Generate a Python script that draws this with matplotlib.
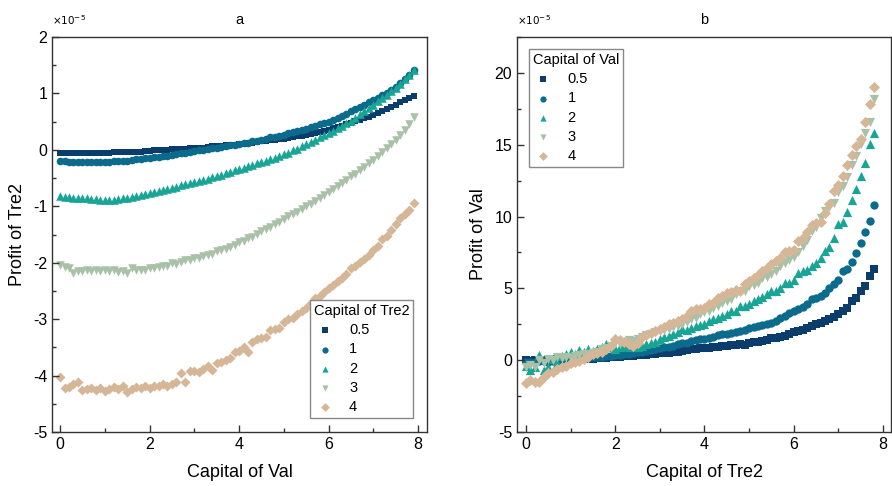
import numpy as np
import matplotlib
matplotlib.use("Agg")
from matplotlib import pyplot as plt
from matplotlib.ticker import MultipleLocator

plt.rcParams['font.family'] = ['Liberation Sans', 'DejaVu Sans']
plt.rcParams['axes.unicode_minus'] = False

# series labels / styles
levels = ['0.5', '1', '2', '3', '4']
colors = ['#0b3d6c', '#0b6b8d', '#18a596', '#a9c2a7', '#d5b797']
markers = ['s', 'o', '^', 'v', 'D']

# panel a: profit of Tre2 vs capital of Val (x 0.0 .. 7.9, values in 1e-5)
cap_val = np.round(np.arange(0, 7.95, 0.1), 1)

tre2_05 = [-0.06, -0.06, -0.06, -0.06, -0.06, -0.06, -0.05, -0.05, -0.05, -0.05,
           -0.05, -0.05, -0.04, -0.04, -0.04, -0.04, -0.03, -0.03, -0.03, -0.02,
           -0.02, -0.01, -0.01, 0.00, 0.00, 0.01, 0.01, 0.02, 0.02, 0.03,
           0.03, 0.04, 0.04, 0.05, 0.06, 0.06, 0.07, 0.08, 0.09, 0.09,
           0.10, 0.11, 0.12, 0.13, 0.14, 0.15, 0.16, 0.17, 0.18, 0.19,
           0.20, 0.21, 0.22, 0.24, 0.25, 0.27, 0.28, 0.30, 0.32, 0.34,
           0.36, 0.38, 0.40, 0.42, 0.45, 0.48, 0.51, 0.53, 0.56, 0.59,
           0.62, 0.65, 0.69, 0.72, 0.76, 0.80, 0.84, 0.88, 0.92, 0.96]
tre2_1 = [-0.20, -0.20, -0.21, -0.21, -0.21, -0.21, -0.22, -0.22, -0.21, -0.21,
          -0.21, -0.21, -0.20, -0.20, -0.19, -0.19, -0.18, -0.17, -0.16, -0.15,
          -0.14, -0.13, -0.12, -0.11, -0.10, -0.09, -0.07, -0.06, -0.05, -0.04,
          -0.02, -0.01, 0.00, 0.01, 0.03, 0.04, 0.05, 0.07, 0.08, 0.09,
          0.10, 0.12, 0.13, 0.15, 0.16, 0.18, 0.20, 0.22, 0.23, 0.25,
          0.27, 0.29, 0.31, 0.33, 0.35, 0.37, 0.40, 0.42, 0.45, 0.47,
          0.50, 0.53, 0.57, 0.60, 0.64, 0.68, 0.72, 0.76, 0.80, 0.84,
          0.88, 0.92, 0.97, 1.01, 1.06, 1.12, 1.18, 1.25, 1.33, 1.42]
tre2_2 = [-0.82, -0.83, -0.84, -0.85, -0.85, -0.86, -0.86, -0.87, -0.87, -0.88,
          -0.88, -0.88, -0.88, -0.87, -0.86, -0.85, -0.84, -0.82, -0.80, -0.78,
          -0.76, -0.74, -0.73, -0.71, -0.69, -0.67, -0.65, -0.63, -0.61, -0.59,
          -0.57, -0.55, -0.53, -0.51, -0.48, -0.46, -0.44, -0.41, -0.39, -0.36,
          -0.34, -0.32, -0.29, -0.27, -0.24, -0.22, -0.19, -0.16, -0.14, -0.11,
          -0.08, -0.05, -0.01, 0.02, 0.06, 0.10, 0.14, 0.18, 0.22, 0.26,
          0.30, 0.34, 0.38, 0.43, 0.47, 0.52, 0.57, 0.63, 0.68, 0.74,
          0.80, 0.86, 0.92, 0.98, 1.04, 1.10, 1.17, 1.25, 1.33, 1.42]
tre2_3 = [-2.04, -2.07, -2.10, -2.19, -2.14, -2.15, -2.13, -2.15, -2.12, -2.14,
          -2.13, -2.15, -2.12, -2.16, -2.14, -2.18, -2.10, -2.13, -2.12, -2.13,
          -2.10, -2.09, -2.07, -2.06, -2.05, -2.01, -2.03, -1.99, -1.96, -1.95,
          -1.92, -1.91, -1.88, -1.86, -1.84, -1.80, -1.78, -1.75, -1.72, -1.68,
          -1.64, -1.61, -1.57, -1.54, -1.49, -1.44, -1.40, -1.36, -1.31, -1.27,
          -1.22, -1.18, -1.14, -1.10, -1.05, -1.00, -0.96, -0.91, -0.86, -0.80,
          -0.75, -0.70, -0.64, -0.59, -0.53, -0.47, -0.42, -0.36, -0.30, -0.24,
          -0.18, -0.11, -0.04, 0.03, 0.10, 0.18, 0.26, 0.35, 0.46, 0.58]
tre2_4 = [-4.02, -4.22, -4.20, -4.14, -4.12, -4.26, -4.24, -4.22, -4.26, -4.22,
          -4.27, -4.24, -4.20, -4.23, -4.19, -4.29, -4.24, -4.20, -4.22, -4.18,
          -4.22, -4.18, -4.19, -4.15, -4.18, -4.15, -4.12, -3.95, -4.11, -3.92,
          -3.92, -3.94, -3.88, -3.83, -3.90, -3.78, -3.75, -3.73, -3.68, -3.58,
          -3.56, -3.50, -3.58, -3.40, -3.36, -3.33, -3.31, -3.20, -3.17, -3.15,
          -3.05, -3.00, -2.98, -2.90, -2.85, -2.80, -2.72, -2.62, -2.59, -2.52,
          -2.45, -2.40, -2.33, -2.27, -2.20, -2.10, -2.05, -1.99, -1.93, -1.87,
          -1.78, -1.70, -1.58, -1.52, -1.42, -1.32, -1.20, -1.13, -1.06, -0.94]

# panel b: profit of Val vs capital of Tre2 (x 0.0 .. 7.8, values in 1e-5)
cap_tre2 = np.round(np.arange(0, 7.85, 0.1), 1)

val_05 = [0.02, -0.05, 0.05, 0.00, 0.03, -0.02, 0.04, 0.06, 0.02, 0.05,
          0.08, 0.06, 0.10, 0.08, 0.12, 0.10, 0.14, 0.15, 0.17, 0.20,
          0.25, 0.24, 0.28, 0.30, 0.30, 0.34, 0.36, 0.38, 0.42, 0.44,
          0.50, 0.48, 0.53, 0.58, 0.60, 0.63, 0.72, 0.76, 0.78, 0.82,
          0.85, 0.88, 0.92, 0.95, 1.00, 1.00, 1.04, 1.08, 1.12, 1.06,
          1.20, 1.24, 1.30, 1.32, 1.40, 1.55, 1.52, 1.62, 1.72, 1.80,
          1.95, 2.05, 2.12, 2.27, 2.38, 2.50, 2.62, 2.73, 2.85, 3.00,
          3.20, 3.42, 3.66, 4.10, 4.35, 4.80, 5.16, 5.85, 6.35]
val_1 = [-0.15, -0.10, -0.12, -0.05, -0.08, -0.10, -0.05, -0.02, 0.00, 0.02,
         0.05, 0.08, 0.10, 0.12, 0.15, 0.20, 0.22, 0.25, 0.28, 0.30,
         0.35, 0.38, 0.40, 0.45, 0.50, 0.55, 0.58, 0.62, 0.70, 0.78,
         0.88, 0.90, 0.95, 1.02, 1.10, 1.18, 1.22, 1.32, 1.40, 1.46,
         1.50, 1.58, 1.62, 1.75, 1.80, 1.85, 1.92, 1.98, 2.03, 2.10,
         2.27, 2.30, 2.38, 2.42, 2.55, 2.60, 2.75, 2.96, 3.05, 3.30,
         3.40, 3.54, 3.70, 3.90, 4.24, 4.30, 4.50, 4.70, 5.05, 5.28,
         5.60, 6.20, 6.32, 6.85, 7.48, 8.17, 8.90, 9.67, 10.80]
val_2 = [-0.40, -0.70, -0.50, 0.35, -0.65, -0.45, 0.10, -0.20, 0.30, 0.45,
         0.55, 0.40, 0.70, 0.60, 0.75, 0.65, 0.80, 0.90, 1.10, 0.95,
         0.77, 0.95, 1.00, 0.90, 1.05, 0.92, 1.00, 1.10, 1.20, 1.30,
         1.46, 1.60, 1.70, 1.85, 1.95, 2.15, 2.10, 2.27, 2.40, 2.45,
         2.50, 2.70, 2.85, 2.95, 3.08, 3.20, 3.42, 3.40, 3.80, 3.75,
         3.90, 4.10, 4.24, 4.40, 4.60, 4.80, 4.85, 5.05, 5.40, 5.35,
         5.60, 6.10, 6.20, 6.30, 6.55, 6.80, 7.10, 7.60, 7.90, 8.50,
         9.50, 9.60, 10.30, 11.13, 11.90, 12.85, 13.70, 15.07, 15.85]
val_3 = [-0.50, -0.30, -0.45, 0.00, -0.20, 0.10, 0.05, 0.20, 0.15, 0.25,
         0.18, 0.30, 0.35, 0.40, 0.45, 0.53, 0.60, 0.75, 0.85, 1.00,
         1.23, 1.15, 1.30, 1.40, 1.35, 1.46, 1.60, 1.75, 1.85, 1.95,
         2.03, 2.10, 2.20, 2.30, 2.40, 2.50, 2.65, 2.85, 2.95, 3.20,
         3.35, 3.42, 3.66, 3.80, 4.00, 4.10, 4.24, 4.60, 4.75, 4.80,
         5.16, 5.25, 5.40, 5.74, 5.80, 5.97, 6.20, 6.55, 6.80, 7.00,
         7.20, 7.50, 7.95, 8.40, 9.00, 9.30, 9.90, 10.40, 10.70, 10.95,
         11.70, 12.15, 12.75, 13.60, 14.20, 15.07, 15.85, 16.55, 18.20]
val_4 = [-1.60, -1.40, -1.50, -1.55, -1.20, -0.86, -0.80, -0.60, -0.50, -0.40,
         -0.20, -0.15, -0.04, 0.10, 0.25, 0.40, 0.50, 0.60, 0.77, 1.00,
         1.46, 1.40, 1.30, 1.10, 1.00, 1.20, 1.60, 1.75, 1.92, 2.00,
         2.15, 2.30, 2.50, 2.60, 2.70, 2.90, 3.08, 3.40, 3.55, 3.60,
         3.66, 3.90, 4.00, 4.35, 4.50, 4.70, 4.75, 4.90, 4.80, 5.30,
         5.50, 5.74, 5.90, 6.20, 6.40, 6.67, 6.90, 7.15, 7.50, 7.60,
         7.70, 8.30, 8.50, 8.90, 9.40, 9.55, 9.60, 10.25, 10.90, 11.80,
         12.20, 12.80, 13.60, 14.30, 14.90, 15.40, 16.60, 17.85, 19.00]

tre2_series = [tre2_05, tre2_1, tre2_2, tre2_3, tre2_4]
val_series = [val_05, val_1, val_2, val_3, val_4]
sizes_a = [24, 30, 38, 38, 26]
sizes_b = [30, 36, 44, 44, 32]


def style_axes(ax):
    for sp in ax.spines.values():
        sp.set_color('#333333')
        sp.set_linewidth(1.0)
    ax.tick_params(which='both', direction='in', top=False, right=False,
                   colors='#333333', labelcolor='black', labelsize=11.5)
    ax.tick_params(which='major', length=5, width=1.0)
    ax.tick_params(which='minor', length=3, width=1.0)
    ax.xaxis.set_major_locator(MultipleLocator(2))
    ax.xaxis.set_minor_locator(MultipleLocator(1))


fig = plt.figure(figsize=(8.92, 4.86), dpi=100)
ax1 = fig.add_axes([0.0583, 0.111, 0.4204, 0.8129])
ax2 = fig.add_axes([0.5796, 0.111, 0.4193, 0.8129])

for ys, lab, c, m, s in zip(tre2_series, levels, colors, markers, sizes_a):
    ax1.scatter(cap_val, ys, s=s, c=c, marker=m, linewidths=0, label=lab)
for ys, lab, c, m, s in zip(val_series, levels, colors, markers, sizes_b):
    ax2.scatter(cap_tre2, ys, s=s, c=c, marker=m, linewidths=0, label=lab)

style_axes(ax1)
ax1.set_xlim(-0.18, 8.2)
ax1.set_ylim(-5, 2)
ax1.yaxis.set_major_locator(MultipleLocator(1))
ax1.yaxis.set_minor_locator(MultipleLocator(0.5))
ax1.set_xlabel('Capital of Val', fontsize=13, labelpad=9)
ax1.set_ylabel('Profit of Tre2', fontsize=13, labelpad=5)
ax1.set_title('a', fontsize=10.5, pad=9)
ax1.text(0.0, 1.025, r'$\times10^{-5}$', transform=ax1.transAxes, fontsize=7.5,
         ha='left', va='bottom')

style_axes(ax2)
ax2.set_xlim(-0.2, 8.18)
ax2.set_ylim(-5, 22.5)
ax2.yaxis.set_major_locator(MultipleLocator(5))
ax2.yaxis.set_minor_locator(MultipleLocator(2.5))
ax2.set_xlabel('Capital of Tre2', fontsize=13, labelpad=9)
ax2.set_ylabel('Profit of Val', fontsize=13, labelpad=5)
ax2.set_title('b', fontsize=10.5, pad=9)
ax2.text(0.0, 1.025, r'$\times10^{-5}$', transform=ax2.transAxes, fontsize=7.5,
         ha='left', va='bottom')

leg_kw = dict(fontsize=10.5, title_fontsize=10.5, fancybox=False, framealpha=1,
              edgecolor='#888888', handletextpad=0.9, labelspacing=0.36,
              borderpad=0.25, handlelength=1.5, scatterpoints=1,
              borderaxespad=0.3)
leg1 = ax1.legend(title='Capital of Tre2', loc='lower right',
                  bbox_to_anchor=(0.975, 0.025), **leg_kw)
leg2 = ax2.legend(title='Capital of Val', loc='upper left',
                  bbox_to_anchor=(0.02, 0.98), **leg_kw)
for leg in (leg1, leg2):
    leg._legend_box.align = 'left'
    leg.get_frame().set_linewidth(1.0)
    for h in leg.legend_handles:
        h.set_sizes([20])

fig.savefig('out.png', dpi=100)
